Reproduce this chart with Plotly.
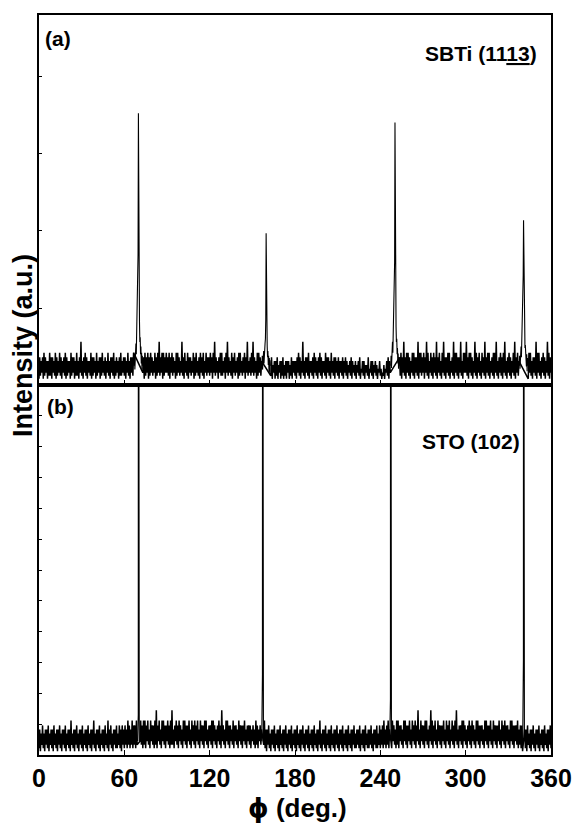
import numpy as np
import plotly.graph_objects as go
from plotly.subplots import make_subplots

# ---------------- data ----------------
phi_ticks = [0, 60, 120, 180, 240, 300, 360]

# panel (a): SBTi (1113) background noise, one digit per 0.5 deg step
noise_a_digits = (
    "172637182736162827173628172638271637281726361827371628261739"
    "261738271636281727361826371728362716382617372816273617282637"
    "271638261737281627361728263718273817283726381728392738182738"
    "372817382736182837263927183628173726381728362718372816382737"
    "283718392736173828263718392736281738263718283627381739263728"
    "392736182837263817273628162715361627153616271526163615271636"
    "261738271639261737281636271837261738271636281737261836271736"
    "271636271637261536271635261536271436261535271436261536251436"
    "241325143627163827173826183728173927183827163828173729183827"
    "381739281638271837291738261839271738281637291838271739261838"
    "392718382716392817382618372917382816372818392617382718392617"
    "3827163829173826183728163927183826173729183826173827163928173"
)
noise_a_levels = [40, 80, 120, 160, 210, 260, 310, 360, 420, 560]

peak_pos_a = [69.9, 159.7, 250.3, 340.7]
peak_off_a = [-3.0, -2.75, -2.5, -2.25, -2.0, -1.75, -1.5, -1.25, -1.0, -0.75,
              -0.5, -0.25, 0.0, 0.25, 0.5, 0.75, 1.0, 1.25, 1.5, 1.75,
              2.0, 2.25, 2.5, 2.75, 3.0]
peak_int_a = [
    [250, 400, 200, 470, 280, 540, 400, 660, 600, 900, 1000, 1700, 3530,
     1600, 950, 820, 560, 620, 400, 500, 280, 420, 200, 380, 250],
    [250, 380, 200, 400, 240, 440, 280, 470, 380, 540, 600, 850, 1970,
     800, 560, 500, 360, 440, 260, 380, 180, 350, 160, 320, 250],
    [250, 380, 220, 480, 300, 560, 420, 640, 620, 880, 980, 1600, 3410,
     1500, 900, 760, 560, 600, 400, 480, 280, 410, 210, 360, 250],
    [250, 380, 210, 440, 280, 500, 360, 580, 520, 700, 850, 1420, 2140,
     1300, 800, 620, 480, 520, 340, 440, 240, 400, 180, 350, 250],
]

# panel (b): STO (102) background noise, one digit per 0.5 deg step
noise_b_digits = (
    "160527150626170526160725160627150626170526160825160627150626"
    "170526160725160628150626170526160725180627150626171527160726"
    "172618271628172718261738271828173826183727182917382618382717"
    "382718292617382718372618382717382618372817382618372718382617"
    "372818372617382719372618382717362817372618372717382617372716"
    "372618271637261728160627150626170526160725160627150626170526"
    "160725160627150626170526160725160628150626170526160725160627"
    "150626170526160725160627151626170526160725161627150626171527"
    "162718261728162718372618281737261838271738261837281739261837"
    "271838261739281738261837271738261837281638271839261737281837"
    "261738271837261838271737261838271738261837271738261837281737"
    "2618382717372816271706261607251606271506261705261607251606271"
)
noise_b_levels = [120, 220, 330, 450, 560, 700, 830, 960, 1120, 1450]

peak_pos_b = [69.9, 157.2, 247.2, 340.7]
peak_off_b = [-0.6, -0.3, -0.1, 0.0, 0.1, 0.3, 0.6]
peak_int_b = [
    [450, 900, 1300, 30000, 1200, 850, 450],
    [450, 1300, 2600, 30000, 2400, 1200, 450],
    [450, 1100, 1800, 30000, 1600, 1000, 450],
    [450, 1500, 3100, 30000, 2800, 1400, 450],
]

range_a = [0, 4805]
range_b = [0, 12000]


def build(digits, levels, pos, offs, ints):
    vals = [levels[int(c)] for c in digits]
    phi = np.linspace(0, 360, len(vals)).tolist()
    nx, ny = [], []
    for x, v in zip(phi, vals):
        if any(p + min(offs) <= x <= p + max(offs) for p in pos):
            continue
        nx.append(x)
        ny.append(v)
    px, py = [], []
    for p, row in zip(pos, ints):
        px += [p + o for o in offs] + [None]
        py += list(row) + [None]
    return nx, ny, px, py


nxa, nya, pxa, pya = build(noise_a_digits, noise_a_levels,
                           peak_pos_a, peak_off_a, peak_int_a)
nxb, nyb, pxb, pyb = build(noise_b_digits, noise_b_levels,
                           peak_pos_b, peak_off_b, peak_int_b)

FONT = "Liberation Sans, Arial, Helvetica, sans-serif"

fig = make_subplots(rows=2, cols=1, shared_xaxes=True, vertical_spacing=0)
for row, (nx, ny, px, py) in enumerate([(nxa, nya, pxa, pya),
                                         (nxb, nyb, pxb, pyb)], start=1):
    fig.add_trace(go.Scatter(x=nx, y=ny, mode="lines",
                             line=dict(color="black", width=1.5),
                             showlegend=False), row=row, col=1)
    fig.add_trace(go.Scatter(x=px, y=py, mode="lines",
                             line=dict(color="black", width=1.1),
                             showlegend=False), row=row, col=1)

axis_common = dict(showline=True, linecolor="black", linewidth=1.5, mirror=True,
                   showgrid=False, zeroline=False, ticks="inside",
                   tickcolor="black")
fig.update_xaxes(range=[0, 360], tickvals=phi_ticks, ticklen=5, tickwidth=1,
                 **axis_common)
fig.update_xaxes(showticklabels=False, row=1, col=1)
fig.update_xaxes(showticklabels=True, row=2, col=1,
                 tickfont=dict(family=FONT, size=25, color="black", weight="bold"))
fig.update_yaxes(dtick=1000, tick0=0, ticklen=3, tickwidth=1,
                 showticklabels=False, **axis_common)
fig.update_yaxes(range=range_a, row=1, col=1)
fig.update_yaxes(range=range_b, row=2, col=1)

ann_font = dict(family=FONT, size=21, color="black", weight="bold")
annotations = [
    dict(text="(a)", x=0.0077, y=0.9676, xanchor="left", yanchor="middle",
         font=ann_font),
    dict(text="SBTi (11<u>13</u>)", x=0.977, y=0.9486, xanchor="right",
         yanchor="middle", font=ann_font),
    dict(text="(b)", x=0.0115, y=0.4703, xanchor="left", yanchor="middle",
         font=ann_font),
    dict(text="STO (102)", x=0.944, y=0.4243, xanchor="right",
         yanchor="middle", font=ann_font),
    dict(text='<span style="font-family:DejaVu Sans">ϕ</span> (deg.)',
         x=0.5058, y=-0.0716, xanchor="center", yanchor="middle",
         font=dict(family=FONT, size=26, color="black", weight="bold")),
    dict(text="Intensity (a.u.)", x=-0.0308, y=0.553, xanchor="center",
         yanchor="middle", textangle=-90,
         font=dict(family=FONT, size=27, color="black", weight="bold")),
]
for a in annotations:
    a.update(xref="paper", yref="paper", showarrow=False)

fig.update_layout(width=584, height=825,
                  margin=dict(l=39, r=25, t=15, b=70),
                  paper_bgcolor="white", plot_bgcolor="white",
                  annotations=annotations)

fig.write_html("out.html", config={"displayModeBar": False},
               post_script="document.body.style.margin='0px';")
